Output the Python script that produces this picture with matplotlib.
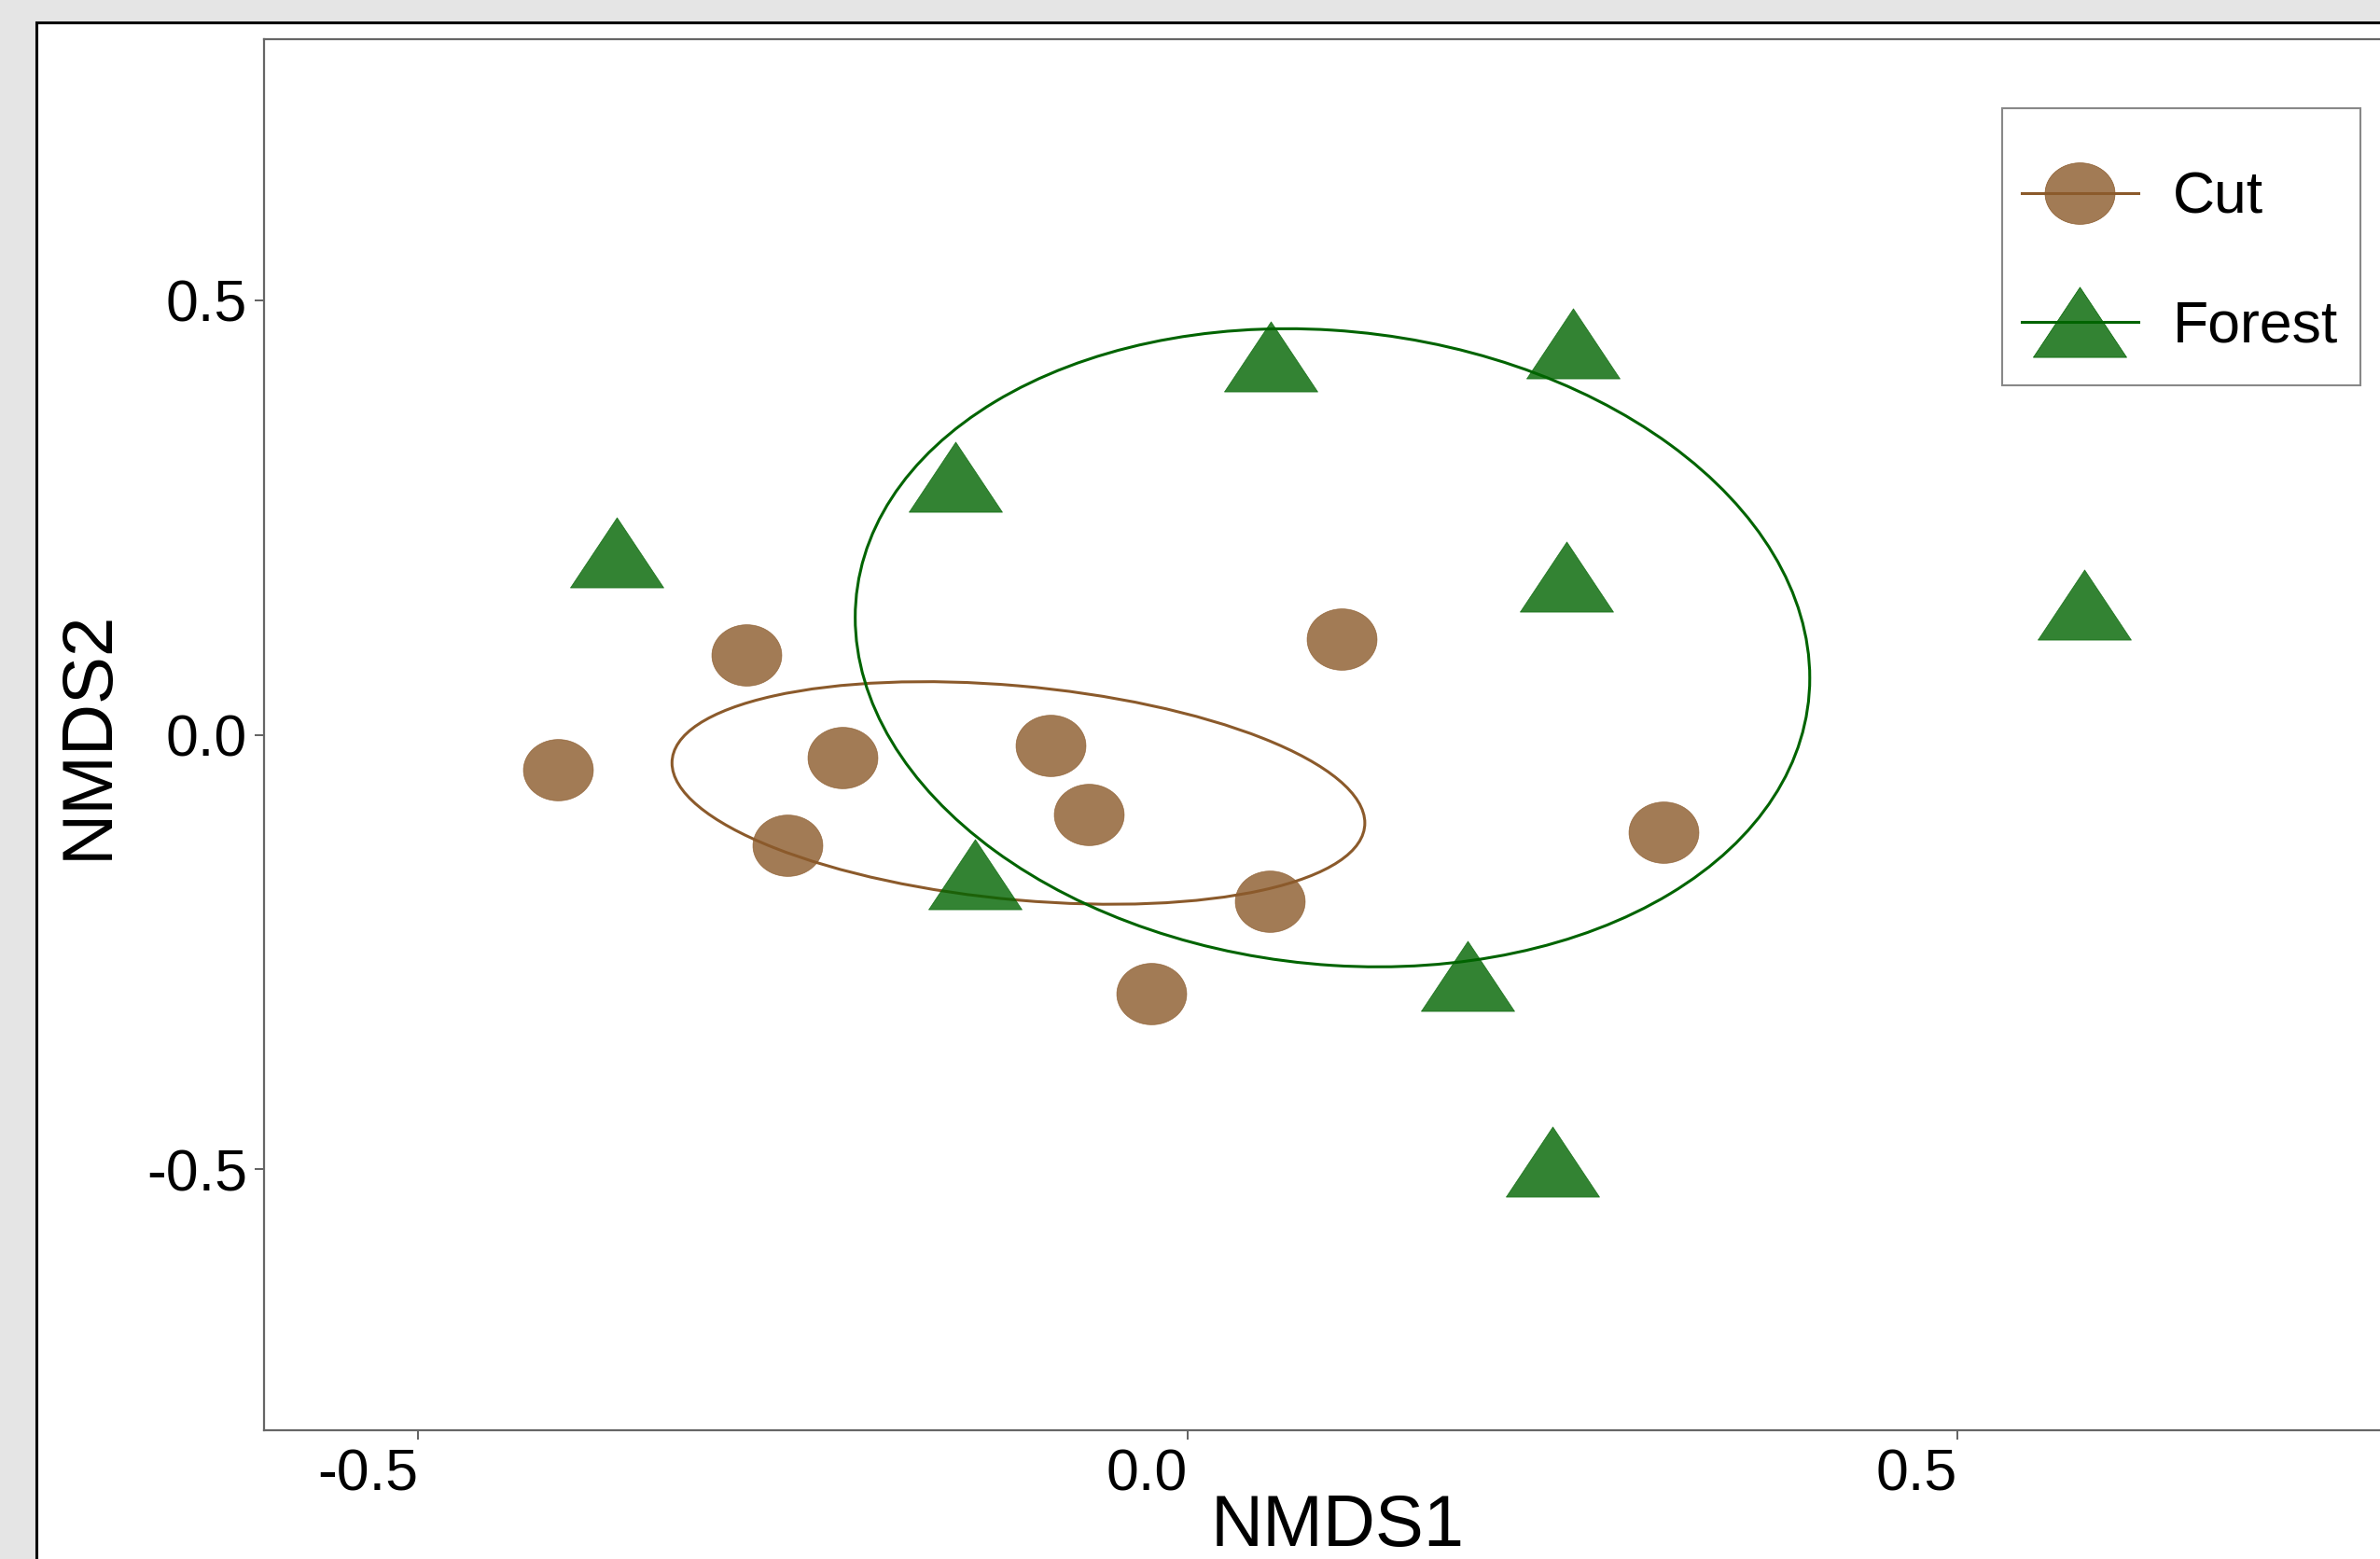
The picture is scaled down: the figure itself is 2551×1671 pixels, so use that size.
import numpy as np
import matplotlib.pyplot as plt
from matplotlib.lines import Line2D
from matplotlib.patches import Rectangle, Circle
from matplotlib.transforms import Affine2D

plt.rcParams['font.family'] = ['Liberation Sans', 'DejaVu Sans']

# NMDS site scores
cut_x = [-0.409, -0.287, -0.224, -0.260, -0.089, -0.064, 0.053, -0.024, 0.100, 0.309]
cut_y = [-0.040, 0.092, -0.026, -0.127, -0.012, -0.092, -0.192, -0.298, 0.110, -0.112]
forest_x = [-0.371, -0.151, 0.054, 0.250, 0.246, 0.582, -0.138, 0.182, 0.237]
forest_y = [0.210, 0.297, 0.435, 0.450, 0.182, 0.150, -0.160, -0.277, -0.491]

# group ellipses: centre, x/y half extents, and cos of phase between them
groups = ['Cut', 'Forest']
ell_cx = [-0.110, 0.094]
ell_cy = [-0.067, 0.100]
ell_rx = [0.225, 0.310]
ell_ry = [0.128, 0.367]
ell_cos = [-0.27, -0.095]

xticks = [-0.5, 0.0, 0.5]
yticks = [-0.5, 0.0, 0.5]

brown = '#8B5A2B'
green = '#006400'

# slightly squashed shapes (the source image is stretched sideways)
t = np.linspace(0, 2 * np.pi, 60)
circle_marker = list(zip(1.14 * np.cos(t), np.sin(t)))
tri_marker = [(-1.33, -1), (1.33, -1), (0, 1), (-1.33, -1)]

W, H = 2551, 1671
fig = plt.figure(figsize=(W / 100, H / 100), dpi=100)
fig.patch.set_facecolor('#e5e5e5')

# white panel with black border behind the plot
fig.patches.append(Rectangle((39 / W, -0.1), 1.2, 1 - 24 / H + 0.1, transform=fig.transFigure,
                             facecolor='white', edgecolor='black', linewidth=2.2, zorder=0))

ax = fig.add_axes([283 / W, 1 - 1533 / H, (2585 - 283) / W, (1533 - 42) / H])
ax.set_zorder(1)
ax.set_xlim(-0.6, 0.795)
ax.set_ylim(-0.8, 0.8)

for i, col in enumerate([brown, green]):
    phi_s = np.sqrt(1 - ell_cos[i] ** 2)
    m = Affine2D(np.array([[ell_rx[i], 0, ell_cx[i]],
                           [ell_ry[i] * ell_cos[i], -ell_ry[i] * phi_s, ell_cy[i]],
                           [0, 0, 1]]))
    ax.add_patch(Circle((0, 0), 1, transform=m + ax.transData, fill=False,
                        edgecolor=col, linewidth=2.2, zorder=2))

ax.plot(cut_x, cut_y, linestyle='none', marker=circle_marker, markersize=54,
        markerfacecolor=brown, markeredgecolor=brown, markeredgewidth=0.5, alpha=0.8, zorder=3)
ax.plot(forest_x, forest_y, linestyle='none', marker=tri_marker, markersize=72,
        markerfacecolor=green, markeredgecolor=green, markeredgewidth=0.5, alpha=0.8, zorder=3)

ax.set_xticks(xticks)
ax.set_yticks(yticks)
ax.set_xticklabels(['-0.5', '0.0', '0.5'], ha='right')
ax.set_yticklabels(['-0.5', '0.0', '0.5'])
ax.tick_params(labelsize=45, length=7, width=1.3, color='#555555', pad=6)
for s in ax.spines.values():
    s.set_color('#666666')
    s.set_linewidth(1.6)

ax.set_xlabel('NMDS1', fontsize=56)
ax.xaxis.set_label_coords(0.5, -0.045)
ax.set_ylabel('NMDS2', fontsize=55)
ax.yaxis.set_label_coords(-0.066, 0.5)

# legend box drawn by hand, entries without frame
fig.patches.append(Rectangle((2146 / W, 1 - 413 / H), (2530 - 2146) / W, (413 - 116) / H,
                             transform=fig.transFigure, facecolor='white', edgecolor='#888888',
                             linewidth=1.5, zorder=5))
handles = [
    Line2D([], [], color=brown, linewidth=2.2, marker=circle_marker, markersize=54,
           markerfacecolor=(0.545, 0.353, 0.169, 0.8), markeredgecolor=brown, markeredgewidth=0.5),
    Line2D([], [], color=green, linewidth=2.2, marker=tri_marker, markersize=72,
           markerfacecolor=(0.0, 0.392, 0.0, 0.8), markeredgecolor=green, markeredgewidth=0.5),
]
leg = fig.legend(handles, groups, loc='upper left', bbox_to_anchor=(2146 / W, 1 - 162 / H),
                 frameon=False, fontsize=45, handlelength=2.0, handletextpad=0.6,
                 labelspacing=1.26, borderpad=0.33, borderaxespad=0)
leg.set_zorder(6)

fig.savefig('out.png', dpi=100, facecolor=fig.get_facecolor())
